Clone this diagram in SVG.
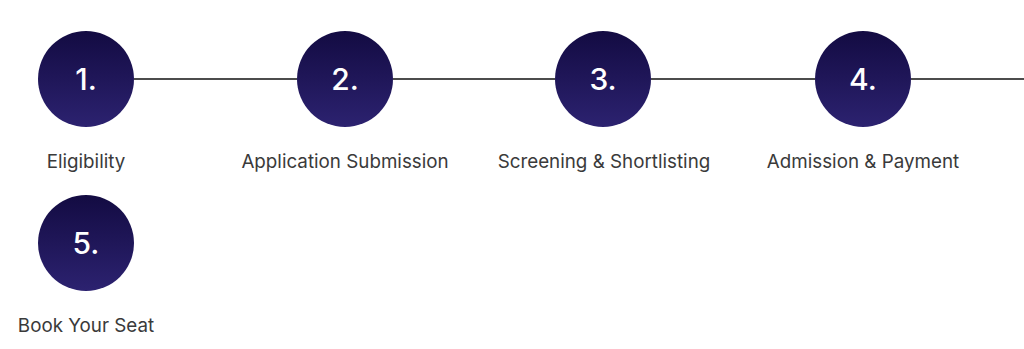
<svg xmlns="http://www.w3.org/2000/svg" width="1024" height="349" viewBox="0 0 1024 349">
<defs>
<linearGradient id="g" x1="0" y1="0" x2="0" y2="1">
<stop offset="0" stop-color="#130b42"/>
<stop offset="1" stop-color="#2c2270"/>
</linearGradient>
<style>
.c{fill:url(#g)}
.n{font-family:"Inter","Liberation Sans",sans-serif;font-size:30px;font-weight:500;fill:#fff;text-anchor:middle}
.l{font-family:"Inter","Liberation Sans",sans-serif;font-size:18.8px;fill:#3a3a3a;text-anchor:middle}
.e{stroke:#111;stroke-width:1.6;fill:none}
</style>
</defs>
<rect width="1024" height="349" fill="#fff"/>
<g id="connectors">
<line class="e" x1="134" y1="79" x2="297" y2="79"/>
<line class="e" x1="393" y1="79" x2="555" y2="79"/>
<line class="e" x1="651" y1="79" x2="815" y2="79"/>
<line class="e" x1="911" y1="79" x2="1024" y2="79"/>
</g>
<g id="step1"><circle class="c" cx="86" cy="79" r="48"/><text class="n" x="86" y="90">1.</text><text class="l" x="86" y="168">Eligibility</text></g>
<g id="step2"><circle class="c" cx="345" cy="79" r="48"/><text class="n" x="345" y="90">2.</text><text class="l" x="345" y="168">Application Submission</text></g>
<g id="step3"><circle class="c" cx="603" cy="79" r="48"/><text class="n" x="603" y="90">3.</text><text class="l" x="604" y="168">Screening &amp; Shortlisting</text></g>
<g id="step4"><circle class="c" cx="863" cy="79" r="48"/><text class="n" x="863" y="90">4.</text><text class="l" x="863" y="168">Admission &amp; Payment</text></g>
<g id="step5"><circle class="c" cx="86" cy="243" r="48"/><text class="n" x="86" y="254">5.</text><text class="l" x="86" y="332">Book Your Seat</text></g>
</svg>
